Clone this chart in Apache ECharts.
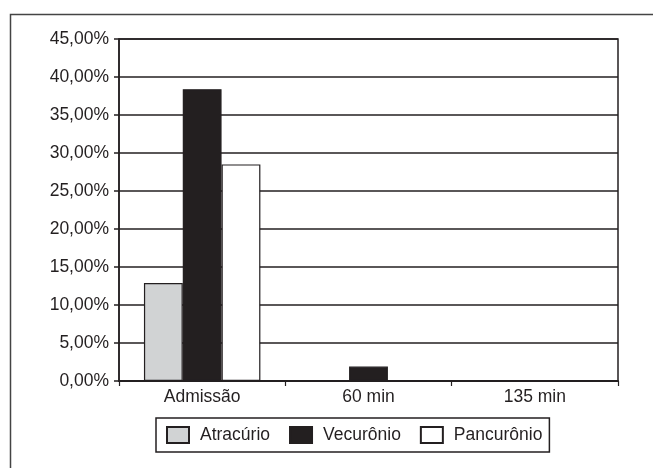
<!DOCTYPE html>
<html>
<head>
<meta charset="utf-8">
<script src="https://cdn.jsdelivr.net/npm/echarts@6/dist/echarts.min.js"></script>
<style>html,body{margin:0;padding:0;background:#fff}#c{width:653px;height:468px}</style>
</head>
<body>
<div id="c"></div>
<script>
const categories = ['Admissão', '60 min', '135 min'];
const atracurio = [12.9, 0, 0];
const vecuronio = [38.4, 1.9, 0];
const pancuronio = [28.5, 0, 0];
const seriesNames = ['Atracúrio', 'Vecurônio', 'Pancurônio'];

const FONT = '"Liberation Sans", Arial, sans-serif';
const TXT = '#231f20';
const FS = 17.5;
const chart = echarts.init(document.getElementById('c'), null, {renderer: 'canvas'});
const barStyle = (c) => ({color: c, borderColor: '#231f20', borderWidth: 1.2});
chart.setOption({
  animation: false,
  backgroundColor: '#fff',
  graphic: [{
    type: 'rect', left: 8, top: 12, shape: {width: 660, height: 480},
    style: {fill: 'none', stroke: '#444', lineWidth: 1.5}
  }],
  grid: {left: 119, right: 35, top: 39, bottom: 87, show: true, borderColor: '#231f20', borderWidth: 1.5, backgroundColor: 'transparent'},
  legend: {
    data: seriesNames,
    left: 156, top: 418,
    itemWidth: 22, itemHeight: 16, itemGap: 19,
    padding: [8, 7, 8, 10],
    borderColor: '#231f20', borderWidth: 1.5,
    textStyle: {fontFamily: FONT, fontSize: FS, color: TXT, padding: [0, 0, 0, 6]},
    icon: 'rect'
  },
  xAxis: {
    type: 'category', data: categories,
    axisLine: {lineStyle: {color: '#231f20', width: 2}},
    axisTick: {show: true, length: 5, inside: false, lineStyle: {color: '#231f20', width: 1.2}},
    axisLabel: {fontFamily: FONT, fontSize: FS, color: TXT, margin: 7},
    splitLine: {show: false}
  },
  yAxis: {
    type: 'value', min: 0, max: 45, interval: 5,
    axisLine: {show: true, lineStyle: {color: '#231f20', width: 1.5}},
    axisTick: {show: true, length: 5, lineStyle: {color: '#231f20', width: 1.5}},
    axisLabel: {fontFamily: FONT, fontSize: FS, color: TXT, margin: 10,
      formatter: v => v.toFixed(2).replace('.', ',') + '%'},
    splitLine: {show: true, lineStyle: {color: '#231f20', width: 1.5}}
  },
  series: [
    {name: seriesNames[0], type: 'bar', data: atracurio, barGap: '0%', barCategoryGap: '30%', itemStyle: barStyle('#d1d3d4')},
    {name: seriesNames[1], type: 'bar', data: vecuronio, barGap: '0%', barCategoryGap: '30%', itemStyle: barStyle('#231f20')},
    {name: seriesNames[2], type: 'bar', data: pancuronio, barGap: '0%', barCategoryGap: '30%', itemStyle: barStyle('#ffffff')}
  ]
});
</script>
</body>
</html>
